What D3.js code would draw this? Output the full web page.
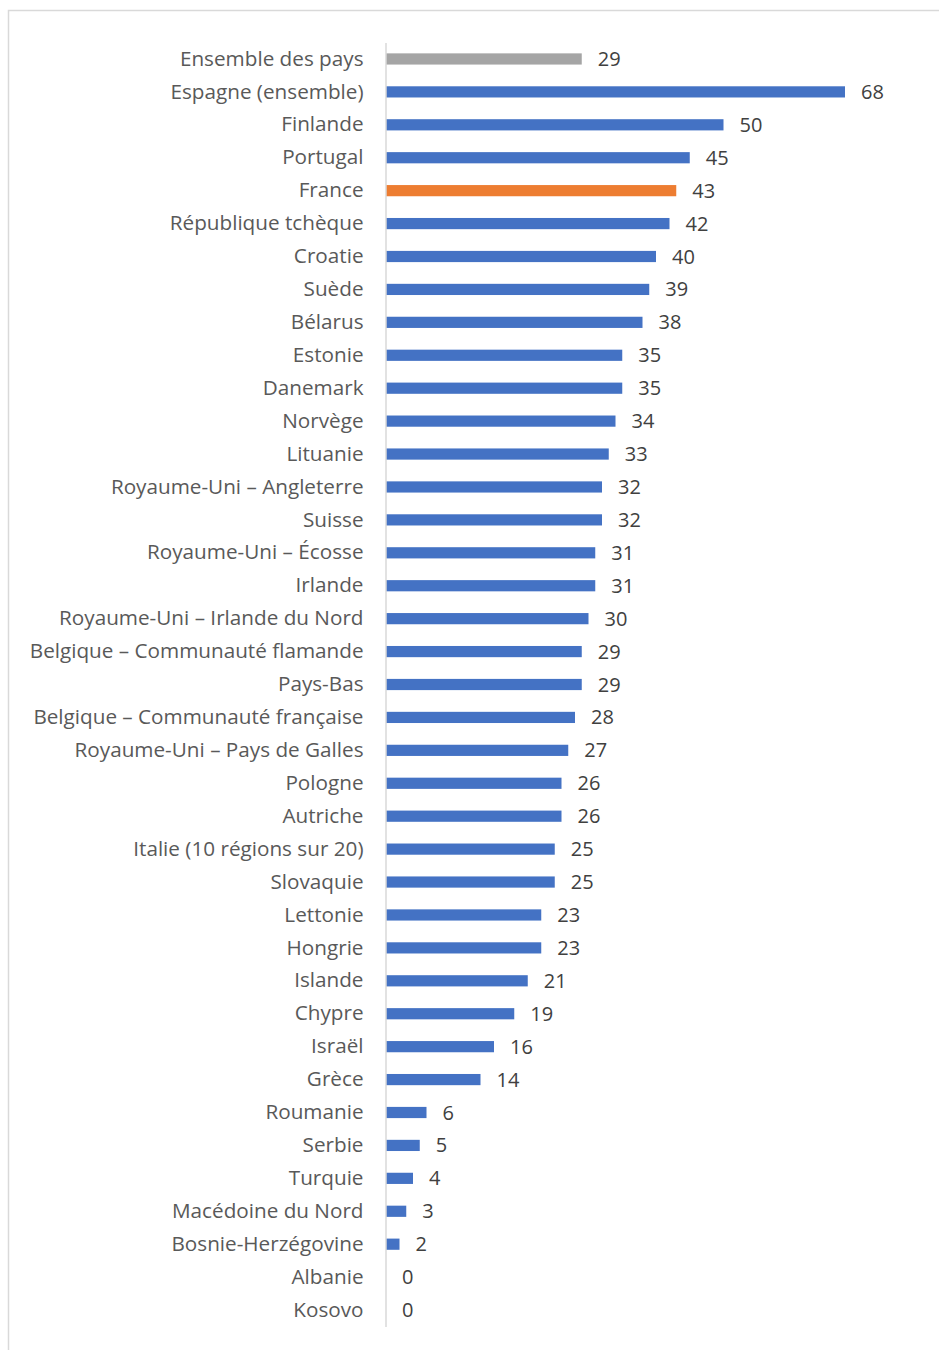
<!DOCTYPE html>
<html><head><meta charset="utf-8">
<script src="https://cdn.jsdelivr.net/npm/d3@7"></script>
<style>body{margin:0;background:#fff}svg{display:block}</style>
</head><body>
<script>
const categories = ["Ensemble des pays","Espagne (ensemble)","Finlande","Portugal","France","République tchèque","Croatie","Suède","Bélarus","Estonie","Danemark","Norvège","Lituanie","Royaume-Uni – Angleterre","Suisse","Royaume-Uni – Écosse","Irlande","Royaume-Uni – Irlande du Nord","Belgique – Communauté flamande","Pays-Bas","Belgique – Communauté française","Royaume-Uni – Pays de Galles","Pologne","Autriche","Italie (10 régions sur 20)","Slovaquie","Lettonie","Hongrie","Islande","Chypre","Israël","Grèce","Roumanie","Serbie","Turquie","Macédoine du Nord","Bosnie-Herzégovine","Albanie","Kosovo"];
const values = [29,68,50,45,43,42,40,39,38,35,35,34,33,32,32,31,31,30,29,29,28,27,26,26,25,25,23,23,21,19,16,14,6,5,4,3,2,0,0];
const highlight = {"Ensemble des pays":"#A5A5A5","France":"#ED7D31"};
const baseColor = "#4472C4";

const W = 939, H = 1350;
const svg = d3.select("body").append("svg").attr("width", W).attr("height", H);
svg.append("rect").attr("x",8.5).attr("y",10.5).attr("width",W).attr("height",H)
  .attr("fill","none").attr("stroke","#d9d9d9").attr("stroke-width",1.5);

const x = d3.scaleLinear().domain([0,68]).range([386,845]);
const y = d3.scaleBand().domain(categories).range([42.5,1326.5]).paddingInner(0.66).paddingOuter(0.33);

const data = categories.map((c,i)=>({c, v: values[i]}));

svg.selectAll("rect.bar").data(data).join("rect").attr("class","bar")
  .attr("x", x(0)).attr("y", d=>y(d.c)).attr("width", d=>x(d.v)-x(0)).attr("height", y.bandwidth())
  .attr("fill", d=>highlight[d.c]||baseColor);

const FONT = "'Open Sans', sans-serif";
const yAxis = d3.axisLeft(y).tickSize(0).tickPadding(22);
const g = svg.append("g").attr("transform",`translate(${x(0)-0.5},0)`).call(yAxis);
g.select(".domain").attr("stroke","#d9d9d9").attr("stroke-width",1.5);
g.selectAll("text").attr("font-family",FONT).attr("font-size",20.7).attr("fill","#595959");

svg.selectAll("text.val").data(data).join("text").attr("class","val")
  .attr("x", d=>x(d.v)+16).attr("y", d=>y(d.c)+y.bandwidth()/2).attr("dy","0.35em")
  .attr("font-family",FONT).attr("font-size",20).attr("fill","#404040")
  .text(d=>d.v);
</script>
</body></html>
